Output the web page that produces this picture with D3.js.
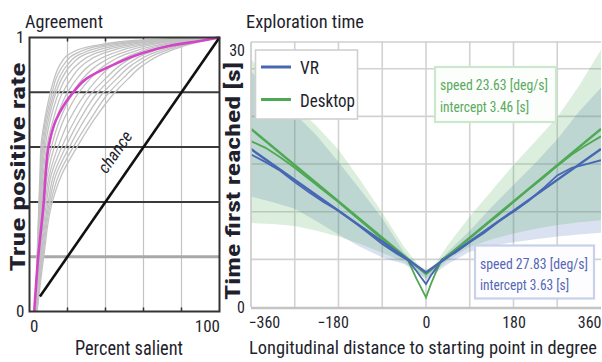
<!DOCTYPE html>
<html>
<head>
<meta charset="utf-8">
<script src="https://cdn.jsdelivr.net/npm/d3@7"></script>
<style>
  body { margin: 0; background: #fff; }
  text { font-family: "Roboto Condensed", "Liberation Sans Narrow", "DejaVu Sans Condensed", Roboto, sans-serif; fill: #1f1f2e; }
</style>
</head>
<body>
<div id="chart"></div>
<script>
"use strict"

// ---------- left panel: Agreement (ROC curves) ----------
// x (percent salient) of each curve at these true positive rates
var rocLevels = [0, 0.2, 0.4, 0.5, 0.6, 0.7, 0.8, 0.85, 0.9, 0.94, 0.97, 0.99, 1];
var rocGray = [
  [3, 4, 5, 5.5, 6, 8, 11, 13, 16, 21, 34, 58, 100],
  [3, 4.1, 5.1, 5.7, 6.5, 8.5, 12, 14, 18, 24, 38, 62, 100],
  [3, 4.2, 5.3, 6, 7, 9.2, 13, 15.5, 20, 27, 42, 66, 100],
  [3, 4.3, 5.5, 6.3, 7.5, 10, 14, 17, 22, 30, 46, 69, 100],
  [3, 4.4, 5.8, 6.7, 8.2, 11, 15.5, 19, 25, 34, 50, 72, 100],
  [3.1, 4.6, 6.1, 7.2, 9, 12.5, 17.5, 22, 28, 38, 54, 75, 100],
  [3.2, 4.8, 6.5, 7.8, 10, 14, 20, 25, 32, 43, 58, 78, 100],
  [3.3, 5, 7, 8.6, 11.5, 16, 23, 28, 36, 47, 62, 80, 100],
  [3.4, 5.3, 7.6, 9.5, 13, 18, 26, 32, 40, 51, 66, 83, 100],
  [3.5, 5.6, 8.3, 10.5, 15, 21, 30, 36, 44, 55, 69, 85, 100],
  [3.6, 5.9, 9, 11.5, 17, 24, 33, 40, 48, 58, 72, 87, 100],
  [3.7, 6.2, 9.8, 12.8, 19, 26.5, 36, 43, 51, 61, 75, 89, 100],
  [3.8, 6.6, 10.5, 14, 21, 29, 39, 46, 54, 64, 78, 91, 100],
  [3.9, 7, 11.2, 15.5, 23, 32, 42, 49, 57, 67, 80, 92, 100],
  [4, 7.5, 12, 17, 25, 34, 45, 52, 60, 70, 82, 93, 100]
];
var rocMean = [2.5, 4.6, 7.5, 8.5, 10, 14, 23, 30, 44, 58, 74, 92, 100];
var chanceX = [5.5, 100];
var chanceY = [0.055, 1];
var rocGridX = [20, 40, 60, 80];
var rocGridY = [0.2, 0.4, 0.6, 0.8];
var rocTicksX = [0, 100];
var rocTicksY = [0, 1];

// ---------- right panel: Exploration time ----------
var bandX     = [-360, -315, -270, -225, -180, -135, -90, -45, -20, 0, 20, 45, 90, 135, 180, 225, 270, 315, 360];
var deskUpper = [26, 23.5, 21.2, 19, 16.5, 13.3, 9.9, 6.3, 4.7, 3.8, 4.6, 6.5, 9.5, 12.2, 14.9, 17.4, 19.9, 23.2, 27];
var deskLower = [8.8, 8.7, 8.5, 8.0, 7.4, 6.6, 5.7, 4.7, 3.8, 2.8, 3.8, 4.9, 6.3, 7.1, 7.7, 8.2, 8.6, 8.9, 9.1];
var vrUpper   = [24.7, 22.5, 20.3, 18.0, 15.2, 12.3, 9.3, 5.7, 4.4, 3.9, 4.3, 5.8, 8.0, 10.5, 12.8, 15.1, 17.6, 20.5, 23];
var vrLower   = [11.6, 11.0, 10.3, 9.0, 7.6, 6.3, 5.2, 4.5, 3.7, 3.0, 3.6, 4.5, 5.8, 6.4, 6.8, 7.1, 7.4, 7.6, 7.8];

var lineX    = [-360, -330, -300, -270, -240, -210, -180, -150, -120, -90, -60, -37, -20, -10, 0, 10, 20, 33, 60, 90, 120, 150, 180, 210, 240, 270, 300, 330, 360];
var vrData   = [16.0, 15.2, 14.3, 13.1, 12.0, 11.0, 10.1, 9.0, 7.8, 6.6, 5.6, 4.9, 3.8, 3.1, 2.4, 3.3, 4.0, 5.0, 5.7, 6.8, 7.8, 9.0, 10.0, 11.1, 12.4, 13.8, 14.6, 15.0, 15.4];
var deskData = [17.4, 16.7, 15.7, 14.6, 13.4, 12.2, 11.0, 9.7, 8.4, 7.1, 5.9, 4.9, 3.0, 2.0, 1.0, 2.4, 3.6, 5.0, 6.0, 7.2, 8.5, 9.7, 11.0, 12.3, 13.5, 14.8, 16.0, 17.0, 17.9];

var fitX    = [-360, 0, 360];
var vrFit   = [16.57, 3.63, 16.57];
var deskFit = [18.69, 3.46, 18.69];

var expGridX = [-270, -180, -90, 0, 90, 180, 270];
var expGridY = [5, 10, 15, 20, 25];
var expTicksX = [-360, -180, 0, 180, 360];
var expTicksY = [0, 27.8];
var expTickLabelsY = ["0", "30"];

var seriesNames = ["VR", "Desktop"];
var fitTexts = {
  VR: ["speed 27.83 [deg/s]", "intercept 3.63 [s]"],
  Desktop: ["speed 23.63 [deg/s]", "intercept 3.46 [s]"]
};

var blue = "#4767b3", green = "#4fa954";

var svg = d3.select("#chart").append("svg")
  .attr("width", 602).attr("height", 362)
  .style("background", "#fff");

function label(g, x, y, txt, size, len, extra) {
  var t = g.append("text").attr("x", x).attr("y", y).text(txt)
    .style("font-size", size + "px");
  if (len) t.attr("textLength", len).attr("lengthAdjust", "spacingAndGlyphs");
  if (extra) extra(t);
  return t;
}

// ======================= Agreement =======================
var xL = d3.scaleLinear().domain([0, 100]).range([29.5, 219.5]);
var yL = d3.scaleLinear().domain([0, 1]).range([311.5, 37.5]);
var left = svg.append("g");

left.selectAll(".gx").data(rocGridX).enter().append("line")
  .attr("x1", d => xL(d)).attr("x2", d => xL(d))
  .attr("y1", yL(0)).attr("y2", yL(1))
  .attr("stroke", "#c4c4c4").attr("stroke-width", 1.2);
// little ticks at top and bottom
left.selectAll(".tt").data(rocGridX).enter().append("line")
  .attr("x1", d => xL(d)).attr("x2", d => xL(d))
  .attr("y1", yL(1)).attr("y2", yL(1) + 4)
  .attr("stroke", "#333").attr("stroke-width", 1.5);
left.selectAll(".tb").data(rocGridX).enter().append("line")
  .attr("x1", d => xL(d)).attr("x2", d => xL(d))
  .attr("y1", yL(0)).attr("y2", yL(0) - 4)
  .attr("stroke", "#333").attr("stroke-width", 1.5);

left.selectAll(".gy").data(rocGridY).enter().append("line")
  .attr("x1", xL(0)).attr("x2", xL(100))
  .attr("y1", d => yL(d)).attr("y2", d => yL(d))
  .attr("stroke", d => d === 0.2 ? "#a8a8a8" : "#3a3a3a")
  .attr("stroke-width", d => d === 0.2 ? 3 : 2);

var rocLine = d3.line()
  .x(d => xL(d[0])).y(d => yL(d[1]))
  .curve(d3.curveMonotoneY);

left.selectAll(".roc").data(rocGray).enter().append("path")
  .attr("d", c => rocLine(c.map((x, i) => [x, rocLevels[i]])))
  .attr("fill", "none").attr("stroke", "#c2c2c2").attr("stroke-width", 1.3);

left.append("path")
  .attr("d", rocLine(rocMean.map((x, i) => [x, rocLevels[i]])))
  .attr("fill", "none").attr("stroke", "#d444c6").attr("stroke-width", 2.6);

left.append("line")
  .attr("x1", xL(chanceX[0])).attr("y1", yL(chanceY[0]))
  .attr("x2", xL(chanceX[1])).attr("y2", yL(chanceY[1]))
  .attr("stroke", "#111").attr("stroke-width", 2.6);

var ang = Math.atan2(yL(chanceY[1]) - yL(chanceY[0]), xL(chanceX[1]) - xL(chanceX[0])) * 180 / Math.PI;
label(left, 0, 0, "chance", 17, null, t => t
  .attr("text-anchor", "middle").style("font-style", "italic")
  .attr("transform", "translate(" + (xL(57) - 18) + "," + (yL(0.57) + 0) + ") rotate(" + ang + ")"));

left.append("rect")
  .attr("x", xL(0)).attr("y", yL(1))
  .attr("width", xL(100) - xL(0)).attr("height", yL(0) - yL(1))
  .attr("fill", "none").attr("stroke", "#333").attr("stroke-width", 2);

var axL = left.append("g").attr("transform", "translate(" + xL(0) + ",0)")
  .call(d3.axisLeft(yL).tickValues(rocTicksY).tickFormat(d3.format("d")).tickSize(0).tickPadding(5));
var axB = left.append("g").attr("transform", "translate(0," + yL(0) + ")")
  .call(d3.axisBottom(xL).tickValues(rocTicksX).tickSize(0).tickPadding(8));
[axL, axB].forEach(a => {
  a.select(".domain").remove();
  a.selectAll("text").style("font-size", "17px").style("font-family", null).attr("fill", "#1f1f2e");
});
axB.selectAll("text").attr("text-anchor", (d, i) => i === 0 ? "start" : "end");

label(left, 25, 28, "Agreement", 18, 78);
label(left, 129, 355, "Percent salient", 21, 108, t => t.attr("text-anchor", "middle"));
label(left, 0, 0, "True positive rate", 21, 209, t => t
  .attr("text-anchor", "middle").style("font-weight", "bold")
  .attr("transform", "translate(25,167) rotate(-90)"));

// ======================= Exploration time =======================
var xR = d3.scaleLinear().domain([-360, 360]).range([251, 601]);
var yR = d3.scaleLinear().domain([0, 27.8]).range([307, 42]);
var right = svg.append("g");

svg.append("clipPath").attr("id", "clipR").append("rect")
  .attr("x", xR(-360)).attr("y", yR(27.8))
  .attr("width", xR(360) - xR(-360)).attr("height", yR(0) - yR(27.8));

right.selectAll(".gx").data(expGridX).enter().append("line")
  .attr("x1", d => xR(d)).attr("x2", d => xR(d))
  .attr("y1", yR(0)).attr("y2", yR(27.8))
  .attr("stroke", "#d2d2d2").attr("stroke-width", 1.6);
right.selectAll(".gy").data(expGridY).enter().append("line")
  .attr("x1", xR(-360)).attr("x2", xR(360))
  .attr("y1", d => yR(d)).attr("y2", d => yR(d))
  .attr("stroke", "#d2d2d2").attr("stroke-width", 1.6);

var plot = right.append("g").attr("clip-path", "url(#clipR)");

var area = d3.area()
  .x(d => xR(d[0])).y0(d => yR(d[1])).y1(d => yR(d[2]));
plot.append("path")
  .attr("d", area(bandX.map((x, i) => [x, vrLower[i], vrUpper[i]])))
  .attr("fill", blue).attr("fill-opacity", 0.2);
plot.append("path")
  .attr("d", area(bandX.map((x, i) => [x, deskLower[i], deskUpper[i]])))
  .attr("fill", green).attr("fill-opacity", 0.2);

var tLine = d3.line().x(d => xR(d[0])).y(d => yR(d[1]));
plot.append("path").attr("d", tLine(lineX.map((x, i) => [x, deskData[i]])))
  .attr("fill", "none").attr("stroke", green).attr("stroke-width", 1.8);
plot.append("path").attr("d", tLine(lineX.map((x, i) => [x, vrData[i]])))
  .attr("fill", "none").attr("stroke", blue).attr("stroke-width", 1.8);
plot.append("path").attr("d", tLine(fitX.map((x, i) => [x, deskFit[i]])))
  .attr("fill", "none").attr("stroke", green).attr("stroke-width", 2.4);
plot.append("path").attr("d", tLine(fitX.map((x, i) => [x, vrFit[i]])))
  .attr("fill", "none").attr("stroke", blue).attr("stroke-width", 2.4);

// frame
right.append("line").attr("x1", xR(-360)).attr("x2", xR(360)).attr("y1", yR(27.8)).attr("y2", yR(27.8))
  .attr("stroke", "#cfcfcf").attr("stroke-width", 1.6);
right.append("line").attr("x1", xR(-360)).attr("x2", xR(-360)).attr("y1", yR(0)).attr("y2", yR(27.8))
  .attr("stroke", "#c8c8c8").attr("stroke-width", 1.6);
right.append("line").attr("x1", xR(-360)).attr("x2", xR(360)).attr("y1", yR(0) + 1).attr("y2", yR(0) + 1)
  .attr("stroke", "#c4c4c4").attr("stroke-width", 2.4);

// legend
var leg = right.append("g");
leg.append("rect").attr("x", 255.5).attr("y", 50).attr("width", 102).attr("height", 69)
  .attr("fill", "#fff").attr("stroke", "#d0d0d0").attr("stroke-width", 1.6);
leg.selectAll(".li").data(seriesNames).enter().append("line")
  .attr("x1", 261).attr("x2", 291)
  .attr("y1", (d, i) => 67 + i * 32.5).attr("y2", (d, i) => 67 + i * 32.5)
  .attr("stroke", (d, i) => i === 0 ? blue : green).attr("stroke-width", 3);
leg.selectAll(".lt").data(seriesNames).enter().append("text")
  .attr("x", 300).attr("y", (d, i) => 74 + i * 32.5)
  .text(d => d).style("font-size", "19px")
  .attr("textLength", (d, i) => i === 0 ? 19 : 55).attr("lengthAdjust", "spacingAndGlyphs");

// fit annotations
function fitBox(x, y, w, h, lines, col, border, fill) {
  right.append("rect").attr("x", x).attr("y", y).attr("width", w).attr("height", h)
    .attr("fill", fill).attr("stroke", border).attr("stroke-width", 2.2);
  lines.forEach((s, i) => {
    label(right, x + 5, y + 23 + i * 21.5, s, 15, i === 0 ? 108 : 89, t => t.style("fill", col));
  });
}
fitBox(435, 67, 121, 55, fitTexts.Desktop, "#5aa95e", "#cde7cf", "#fbfefb");
fitBox(475, 245.5, 119, 53, fitTexts.VR, "#5567b6", "#c9d1ea", "#fdfdff");

var axRY = right.append("g").attr("transform", "translate(" + xR(-360) + ",0)")
  .call(d3.axisLeft(yR).tickValues(expTicksY).tickFormat((d, i) => expTickLabelsY[i]).tickSize(0).tickPadding(6));
var axRX = right.append("g").attr("transform", "translate(0," + yR(0) + ")")
  .call(d3.axisBottom(xR).tickValues(expTicksX).tickFormat(d => d < 0 ? "\u2212" + (-d) : d).tickSize(0).tickPadding(10));
[axRY, axRX].forEach(a => {
  a.select(".domain").remove();
  a.selectAll("text").style("font-size", "16px").style("font-family", null).attr("fill", "#1f1f2e");
});
axRY.selectAll("text").attr("dy", (d, i) => i === 1 ? "0.85em" : "0.32em");
axRX.selectAll("text")
  .attr("text-anchor", (d, i) => i === 0 ? "start" : (i === expTicksX.length - 1 ? "end" : "middle"))
  .attr("dx", d => d === -360 ? -3 : (d === -180 ? -6 : 0));

label(right, 246, 28, "Exploration time", 19, 118);
label(right, 249, 354, "Longitudinal distance to starting point in degree", 18.5, 348);
label(right, 0, 0, "Time first reached [s]", 21, 238, t => t
  .attr("text-anchor", "middle").style("font-weight", "bold")
  .attr("transform", "translate(240,181) rotate(-90)"));
</script>
</body>
</html>
